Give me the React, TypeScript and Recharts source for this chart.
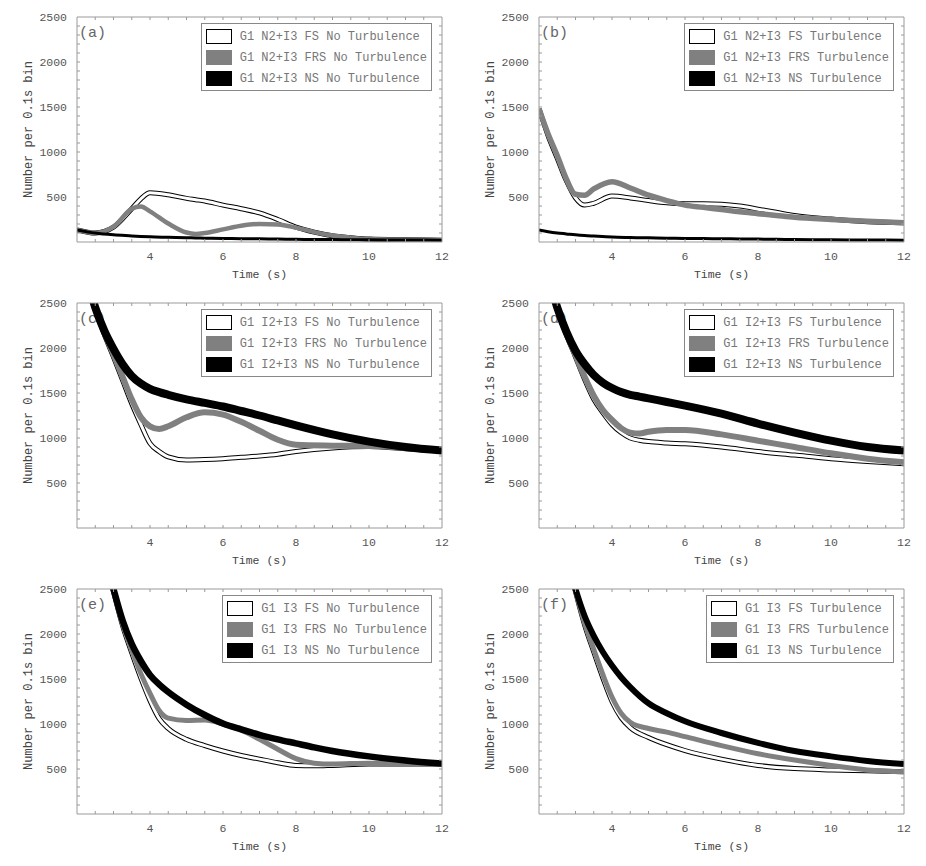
import React from "react";
import { LineChart, Line, XAxis, YAxis } from "recharts";

// tick positions
const X_MAJOR = [4, 6, 8, 10, 12];
const X_MINOR = [2.5, 3, 3.5, 4, 4.5, 5, 5.5, 6, 6.5, 7, 7.5, 8, 8.5, 9, 9.5, 10, 10.5, 11, 11.5];
const Y_MAJOR = [500, 1000, 1500, 2000, 2500];
const Y_MINOR = [100, 200, 300, 400, 500, 600, 700, 800, 900, 1000, 1100, 1200, 1300, 1400, 1500, 1600, 1700, 1800, 1900, 2000, 2100, 2200, 2300, 2400];

// (a) G1 N2+I3, no turbulence
const TIME_A = [2, 2.5, 3, 3.5, 3.75, 4, 4.5, 5, 5.25, 5.5, 6, 6.5, 7, 7.5, 8, 8.5, 9, 9.5, 10, 11, 12];
const FS_A = [135, 100, 165, 370, 480, 547, 525, 485, 470, 455, 410, 370, 323, 250, 165, 110, 70, 48, 32, 24, 20];
const FRS_A = [135, 100, 170, 370, 395, 340, 205, 105, 90, 100, 140, 180, 200, 195, 160, 110, 72, 48, 32, 24, 20];
const NS_A = [135, 100, 80, 68, 62, 57, 52, 47, 45, 43, 40, 37, 35, 32, 30, 28, 27, 25, 24, 22, 20];

// (b) G1 N2+I3, turbulence
const TIME_B = [2, 2.25, 2.5, 2.75, 3, 3.25, 3.5, 4, 4.5, 5, 5.5, 6, 6.5, 7, 7.5, 8, 8.5, 9, 10, 11, 12];
const FS_B = [1480, 1180, 930, 680, 490, 410, 430, 510, 490, 460, 435, 425, 425, 420, 400, 365, 330, 295, 255, 225, 215];
const FRS_B = [1480, 1200, 960, 700, 530, 520, 590, 670, 600, 520, 460, 410, 385, 360, 335, 315, 295, 275, 250, 230, 215];
const NS_B = [135, 115, 100, 90, 80, 72, 66, 55, 50, 46, 43, 40, 38, 36, 34, 32, 30, 28, 25, 22, 20];

// (c) G1 I2+I3, no turbulence
const TIME_C = [2, 2.25, 2.5, 2.75, 3, 3.25, 3.5, 3.75, 4, 4.25, 4.5, 5, 5.5, 6, 6.5, 7, 7.5, 8, 9, 10, 11, 12];
const FS_C = [3100, 2800, 2430, 2150, 1900, 1640, 1380, 1150, 940, 850, 790, 755, 760, 770, 785, 800, 820, 850, 890, 905, 880, 860];
const FRS_C = [3100, 2800, 2440, 2170, 1930, 1680, 1430, 1230, 1130, 1100, 1130, 1230, 1285, 1260, 1180, 1080, 980, 925, 915, 910, 890, 860];
const NS_C = [3100, 2800, 2450, 2190, 1990, 1820, 1690, 1605, 1547, 1510, 1480, 1430, 1390, 1350, 1300, 1250, 1195, 1140, 1040, 960, 900, 860];

// (d) G1 I2+I3, turbulence
const TIME_D = [2, 2.25, 2.5, 2.75, 3, 3.25, 3.5, 3.75, 4, 4.25, 4.5, 4.75, 5, 5.5, 6, 7, 8, 9, 10, 11, 12];
const FS_D = [3100, 2800, 2430, 2150, 1900, 1650, 1430, 1280, 1150, 1060, 1000, 975, 960, 945, 935, 900, 850, 810, 770, 740, 715];
const FRS_D = [3100, 2800, 2440, 2160, 1920, 1680, 1470, 1310, 1200, 1110, 1060, 1050, 1070, 1090, 1090, 1040, 970, 900, 830, 770, 730];
const NS_D = [3100, 2800, 2450, 2180, 1970, 1820, 1700, 1615, 1555, 1510, 1480, 1460, 1440, 1400, 1360, 1270, 1160, 1060, 970, 900, 860];

// (e) G1 I3, no turbulence
const TIME_E = [2.5, 3, 3.25, 3.5, 3.75, 4, 4.25, 4.5, 5, 5.5, 6, 6.5, 7, 7.5, 8, 8.5, 9, 10, 11, 12];
const FS_E = [3300, 2470, 2090, 1790, 1510, 1260, 1060, 950, 830, 760, 700, 650, 610, 570, 540, 535, 540, 555, 555, 555];
const FRS_E = [3300, 2480, 2110, 1820, 1560, 1340, 1150, 1065, 1040, 1045, 1000, 930, 830, 720, 615, 565, 555, 565, 560, 555];
const NS_E = [3300, 2500, 2150, 1890, 1700, 1545, 1440, 1355, 1215, 1100, 1005, 940, 880, 830, 785, 740, 700, 640, 595, 560];

// (f) G1 I3, turbulence
const TIME_F = [2.5, 3, 3.25, 3.5, 3.75, 4, 4.25, 4.5, 5, 5.5, 6, 7, 8, 9, 10, 11, 12];
const FS_F = [3300, 2470, 2100, 1800, 1510, 1250, 1070, 960, 850, 770, 705, 610, 540, 505, 490, 480, 470];
const FRS_F = [3300, 2480, 2120, 1830, 1550, 1300, 1120, 1020, 950, 910, 860, 760, 670, 600, 540, 490, 470];
const NS_F = [3300, 2500, 2200, 1980, 1800, 1650, 1520, 1410, 1230, 1120, 1030, 900, 790, 700, 640, 590, 555];

const NAMES_A = ["G1 N2+I3 FS No Turbulence", "G1 N2+I3 FRS No Turbulence", "G1 N2+I3 NS No Turbulence"];
const NAMES_B = ["G1 N2+I3 FS Turbulence", "G1 N2+I3 FRS Turbulence", "G1 N2+I3 NS Turbulence"];
const NAMES_C = ["G1 I2+I3 FS No Turbulence", "G1 I2+I3 FRS No Turbulence", "G1 I2+I3 NS No Turbulence"];
const NAMES_D = ["G1 I2+I3 FS Turbulence", "G1 I2+I3 FRS Turbulence", "G1 I2+I3 NS Turbulence"];
const NAMES_E = ["G1 I3 FS No Turbulence", "G1 I3 FRS No Turbulence", "G1 I3 NS No Turbulence"];
const NAMES_F = ["G1 I3 FS Turbulence", "G1 I3 FRS Turbulence", "G1 I3 NS Turbulence"];

const MONO = '"Liberation Mono", "DejaVu Sans Mono", monospace';
const FRAME = "#9a9a9a";
const GREY = "#808080";
const W = 462;
const H = 286;

type PanelProps = {
  tag: string;
  names: string[];
  time: number[];
  fs: number[];
  frs: number[];
  ns: number[];
  frsWidth: number;
  nsWidth: number;
};

const swatches = [
  { background: "#fff", border: "1px solid #000" },
  { background: GREY, border: `1px solid ${GREY}` },
  { background: "#000", border: "1px solid #000" },
];

// tick marks only, no label
const NoLabel = () => <g />;

function Panel({ tag, names, time, fs, frs, ns, frsWidth, nsWidth }: PanelProps) {
  const data = time.map((t, i) => ({ t, fs: fs[i], frs: frs[i], ns: ns[i] }));
  const tickStyle = { fontFamily: MONO, fontSize: 11.5, fill: "#555" };
  const minor = { mirror: true, tick: NoLabel, tickSize: 3, tickLine: { stroke: FRAME }, interval: 0 as const, allowDataOverflow: true, type: "number" as const };
  return (
    <div style={{ position: "relative", width: W, height: H }}>
      <div style={{ position: "absolute", left: 79, top: 25, fontFamily: MONO, fontSize: 15, color: "#666" }}>
        ({tag})
      </div>
      <LineChart width={W} height={H} data={data} margin={{ top: 17, right: 20, bottom: 0, left: 0 }}>
        <XAxis
          xAxisId="b"
          dataKey="t"
          type="number"
          domain={[2, 12]}
          allowDataOverflow
          ticks={X_MAJOR}
          tickLine={false}
          axisLine={{ stroke: FRAME }}
          height={44}
          tick={tickStyle}
          tickMargin={4}
          label={{ value: "Time (s)", position: "insideBottom", offset: 8, style: { fontFamily: MONO, fontSize: 11.5, fill: "#444" } }}
        />
        <XAxis xAxisId="bm" dataKey="t" domain={[2, 12]} ticks={X_MINOR} axisLine={false} {...minor} />
        <XAxis xAxisId="tm" dataKey="t" orientation="top" domain={[2, 12]} ticks={X_MINOR} axisLine={{ stroke: FRAME }} {...minor} />
        <YAxis
          yAxisId="l"
          type="number"
          domain={[0, 2500]}
          allowDataOverflow
          ticks={Y_MAJOR}
          tickLine={false}
          axisLine={{ stroke: FRAME }}
          width={77}
          tick={tickStyle}
          tickMargin={4}
          label={{ value: "Number per 0.1s bin", angle: -90, position: "insideLeft", offset: 28, style: { fontFamily: MONO, fontSize: 12, fill: "#444", textAnchor: "middle" } }}
        />
        <YAxis yAxisId="lm" domain={[0, 2500]} ticks={Y_MINOR} axisLine={false} {...minor} />
        <YAxis yAxisId="rm" orientation="right" domain={[0, 2500]} ticks={Y_MINOR} axisLine={{ stroke: FRAME }} {...minor} />
        <Line xAxisId="b" yAxisId="l" type="monotone" dataKey="fs" name="fsEdge" stroke="#000" strokeWidth={5} dot={false} activeDot={false} isAnimationActive={false} />
        <Line xAxisId="b" yAxisId="l" type="monotone" dataKey="fs" name="fsFill" stroke="#fff" strokeWidth={3} dot={false} activeDot={false} isAnimationActive={false} />
        <Line xAxisId="b" yAxisId="l" type="monotone" dataKey="frs" stroke={GREY} strokeWidth={frsWidth} dot={false} activeDot={false} isAnimationActive={false} />
        <Line xAxisId="b" yAxisId="l" type="monotone" dataKey="ns" stroke="#000" strokeWidth={nsWidth} dot={false} activeDot={false} isAnimationActive={false} />
      </LineChart>
      <div
        style={{
          position: "absolute",
          right: 30,
          top: 23,
          background: "#fff",
          border: "1px solid #888",
          padding: "2px 4px 1px 4px",
          fontFamily: MONO,
          fontSize: 12,
          color: "#777",
        }}
      >
        {names.map((n, i) => (
          <div key={n} style={{ display: "flex", alignItems: "center", height: 21, whiteSpace: "pre" }}>
            <span style={{ display: "inline-block", width: 24, height: 13, marginRight: 8, ...swatches[i] }} />
            {n}
          </div>
        ))}
      </div>
    </div>
  );
}

export default function App() {
  return (
    <div style={{ position: "absolute", left: 0, top: 0, width: 926, height: 866, background: "#fff", display: "grid", gridTemplateColumns: `${W}px ${W}px`, gridAutoRows: `${H}px` }}>
      <Panel tag="a" names={NAMES_A} time={TIME_A} fs={FS_A} frs={FRS_A} ns={NS_A} frsWidth={4.5} nsWidth={3} />
      <Panel tag="b" names={NAMES_B} time={TIME_B} fs={FS_B} frs={FRS_B} ns={NS_B} frsWidth={5.5} nsWidth={3} />
      <Panel tag="c" names={NAMES_C} time={TIME_C} fs={FS_C} frs={FRS_C} ns={NS_C} frsWidth={6} nsWidth={8} />
      <Panel tag="d" names={NAMES_D} time={TIME_D} fs={FS_D} frs={FRS_D} ns={NS_D} frsWidth={6} nsWidth={8} />
      <Panel tag="e" names={NAMES_E} time={TIME_E} fs={FS_E} frs={FRS_E} ns={NS_E} frsWidth={5} nsWidth={6.5} />
      <Panel tag="f" names={NAMES_F} time={TIME_F} fs={FS_F} frs={FRS_F} ns={NS_F} frsWidth={5} nsWidth={6} />
    </div>
  );
}
